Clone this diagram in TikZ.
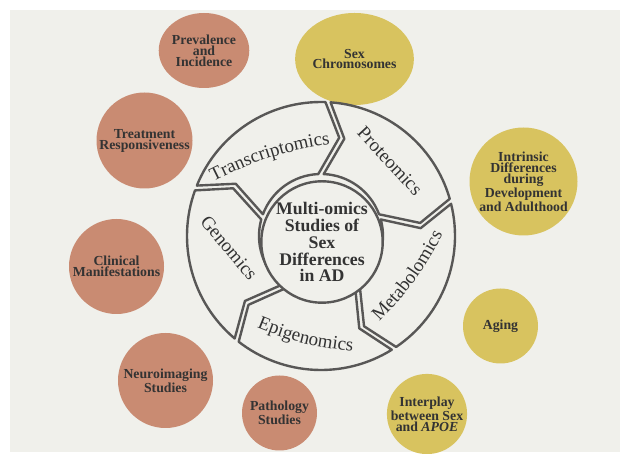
\documentclass[tikz,border=0pt]{standalone}
\usepackage{fontspec}
\setmainfont{Liberation Serif}
\usetikzlibrary{shapes.geometric,decorations.text}

\definecolor{paper}{RGB}{240,240,235}
\definecolor{clay}{RGB}{201,139,114}
\definecolor{mustard}{RGB}{216,195,95}
\definecolor{ink}{RGB}{51,51,51}
\definecolor{rim}{RGB}{88,87,86}

\def\pxu{0.025cm}
\newcommand\omicfont{\fontsize{13.5}{15}\selectfont}

\tikzset{
  topic/.style={circle,inner sep=0pt,align=center,text=ink,
    font=\bfseries\fontsize{9.8}{7.8}\selectfont},
  band/.style={draw=rim,line width=1.7pt,line join=round},
  omic/.style={text=ink,font=\omicfont,inner sep=0pt}
}

\begin{document}
\begin{tikzpicture}[x=0.025cm,y=0.025cm]
\useasboundingbox (0,0) rectangle (620,454);
\fill[paper] (10,2) rectangle (620,444);

% findings around the wheel
\node[topic,ellipse,fill=clay,minimum width=64*\pxu,minimum height=75*\pxu] (prev) at (204,403.5) {Prevalence\\and\\Incidence};
\node[topic,fill=clay,minimum size=96*\pxu] (treat) at (144.5,313.5) {Treatment\\Responsiveness};
\node[topic,fill=clay,minimum size=95*\pxu] (clin) at (116.5,187.5) {Clinical\\Manifestations};
\node[topic,fill=clay,minimum size=95*\pxu] (neuro) at (165.5,73.5) {Neuroimaging\\Studies};
\node[topic,fill=clay,minimum size=75*\pxu] (path) at (279.5,41) {Pathology\\Studies};

\node[topic,ellipse,fill=mustard,minimum width=77*\pxu,minimum height=92*\pxu] (chrom) at (354.5,395) {Sex\\Chromosomes};
\node[topic,fill=mustard,minimum size=108*\pxu] (intr) at (523.5,272.5) {Intrinsic\\Differences\\during\\Development\\and Adulthood};
\node[topic,fill=mustard,minimum size=75*\pxu] (aging) at (500.5,128) {Aging};
\node[topic,fill=mustard,minimum size=76*\pxu] (apoe) at (427,40) {Interplay\\between Sex\\and \textit{APOE}};

% the five omics bands, point on the clockwise end, notch on the other
\begin{scope}[shift={(321,218)}]
\foreach \s in {159,87,15,-57,-129}{
  \pgfmathsetmacro\e{\s-72}
  \draw[band] (\s-1.1:134) arc[start angle=\s-1.1,end angle=\e+1.1,radius=134]
    -- (\e-7.5:100) -- (\e+5.5:62)
    arc[start angle=\e+5.5,end angle=\s+0.5,radius=62]
    -- (\s-10.5:100) -- cycle;
}
\end{scope}

\node[circle,draw=rim,line width=1.7pt,fill=paper,minimum size=114*\pxu,inner sep=0pt,
  align=center,text=ink,font=\bfseries\fontsize{12.6}{12}\selectfont] (hub) at (322,212)
  {Multi-omics\\Studies of\\Sex\\Differences\\in AD};

\node[omic,rotate=-47] (prot) at (390,293) {Proteomics};
\node[omic,rotate=-50] (geno) at (229,206) {Genomics};
\path[decorate,decoration={text along path,text align=center,
  text={|\omicfont\color{ink}|Transcriptomics}}] (201,266) to[bend left=10] (344,312);
\path[decorate,decoration={text along path,text align=center,
  text={|\omicfont\color{ink}|Metabolomics}}] (368,121) to[bend right=10] (450,234);
\path[decorate,decoration={text along path,text align=center,
  text={|\omicfont\color{ink}|Epigenomics}}] (242.5,132.6) to[bend right=10] (368.5,101.2);
\end{tikzpicture}
\end{document}
